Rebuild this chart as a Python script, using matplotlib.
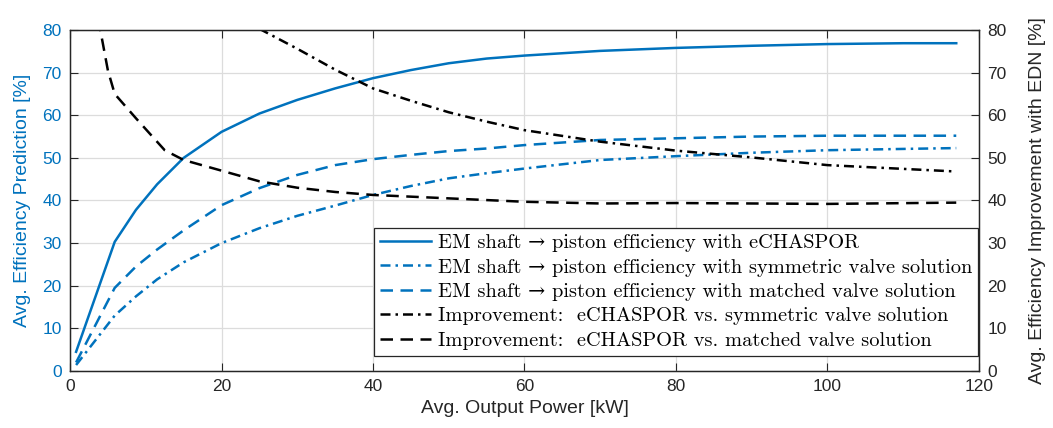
import matplotlib
matplotlib.use("Agg")
import matplotlib.pyplot as plt

plt.rcParams['font.family'] = ['Liberation Sans', 'DejaVu Sans']

blue = '#0072BD'

# efficiency predictions (left axis)
eff_x = [0.8, 5.9, 8.7, 11.5, 15, 20, 25, 30, 35, 40, 45, 50, 55, 60, 70, 80, 90, 100, 110, 117]
echaspor_eff = [4.5, 30.3, 37.8, 43.8, 50.0, 56.1, 60.4, 63.6, 66.3, 68.7, 70.6, 72.2, 73.3, 74.0,
                75.1, 75.8, 76.3, 76.7, 76.9, 76.9]
symmetric_eff = [1.4, 13.0, 17.5, 21.5, 25.5, 30.0, 33.5, 36.4, 38.8, 41.3, 43.4, 45.2, 46.4, 47.5,
                 49.5, 50.4, 51.2, 51.8, 52.1, 52.3]
matched_eff = [2.0, 19.5, 24.5, 28.5, 33.0, 38.9, 42.9, 46.0, 48.3, 49.7, 50.7, 51.6, 52.2, 53.0,
               54.2, 54.6, 55.0, 55.2, 55.2, 55.2]

# improvements (right axis)
impr_sym_x = [0.8, 5.9, 10, 15, 20, 25.3, 30, 35, 40, 45, 50, 55, 60, 70, 80, 90, 100, 117]
impr_sym = [400, 160, 120, 100, 88, 80.0, 75.6, 70.7, 66.3, 63.4, 60.7, 58.5, 56.5, 53.8, 51.7,
            50.1, 48.3, 46.8]
impr_match_x = [0.8, 3.5, 4.0, 5.0, 5.9, 8.7, 12.5, 15, 20, 25, 30, 35, 40, 50, 60, 70, 80, 90,
                100, 117]
impr_match = [130, 86, 80, 70.5, 65.0, 59.3, 51.8, 49.5, 47.0, 44.5, 43.0, 42.0, 41.3, 40.5, 39.7,
              39.3, 39.4, 39.3, 39.2, 39.5]

labels = [
    'EM shaft \u2192 piston efficiency with eCHASPOR',
    'EM shaft \u2192 piston efficiency with symmetric valve solution',
    'EM shaft \u2192 piston efficiency with matched valve solution',
    'Improvement:  eCHASPOR vs. symmetric valve solution',
    'Improvement:  eCHASPOR vs. matched valve solution',
]

fig = plt.figure(figsize=(10.53, 4.28), dpi=100)
ax = fig.add_axes([0.0665, 0.1332, 0.8632, 0.7967])
ax2 = ax.twinx()

lw = 1.8
dash = (5, 3)
dashdot = (4, 2, 1, 2)

l1, = ax.plot(eff_x, echaspor_eff, color=blue, lw=lw)
l2, = ax.plot(eff_x, symmetric_eff, color=blue, lw=lw, dashes=dashdot)
l3, = ax.plot(eff_x, matched_eff, color=blue, lw=lw, dashes=dash)
l4, = ax2.plot(impr_sym_x, impr_sym, color='black', lw=lw, dashes=dashdot)
l5, = ax2.plot(impr_match_x, impr_match, color='black', lw=lw, dashes=dash)

ax.set_xlim(0, 120)
ax.set_ylim(0, 80)
ax2.set_ylim(0, 80)
ax.set_xticks(range(0, 121, 20))
ax.set_yticks(range(0, 81, 10))
ax2.set_yticks(range(0, 81, 10))

ax.grid(True, color='#dcdcdc', lw=0.9)
ax.set_axisbelow(True)

for sp in ax.spines.values():
    sp.set_color('#262626')
    sp.set_linewidth(0.9)
for sp in ax2.spines.values():
    sp.set_color('#262626')
    sp.set_linewidth(0.9)

ax.tick_params(axis='x', direction='in', top=True, length=6, color='#262626',
               labelsize=12.5, labelcolor='#262626', pad=6)
ax.tick_params(axis='y', direction='in', length=6, color='#262626',
               labelsize=12.5, labelcolor=blue, pad=6)
ax2.tick_params(axis='y', direction='in', length=6, color='#262626',
                labelsize=12.5, labelcolor='#262626', pad=6)

ax.set_xlabel('Avg. Output Power [kW]', fontsize=14, color='#262626', labelpad=4)
ax.set_ylabel('Avg. Efficiency Prediction [%]', fontsize=14, color=blue, labelpad=8)
ax2.set_ylabel('Avg. Efficiency Improvement with EDN [%]', fontsize=14, color='#262626', labelpad=16)

leg = ax2.legend([l1, l2, l3, l4, l5], labels, loc='lower right',
                 bbox_to_anchor=(0.999, 0.044), borderaxespad=0, fancybox=False,
                 framealpha=1, edgecolor='#262626', handlelength=2.5, handletextpad=0.3,
                 borderpad=0.3, labelspacing=0.3,
                 prop={'family': ['cmr10', 'DejaVu Serif'], 'size': 14.7})
leg.get_frame().set_linewidth(0.9)

fig.savefig('out.png', dpi=100)
